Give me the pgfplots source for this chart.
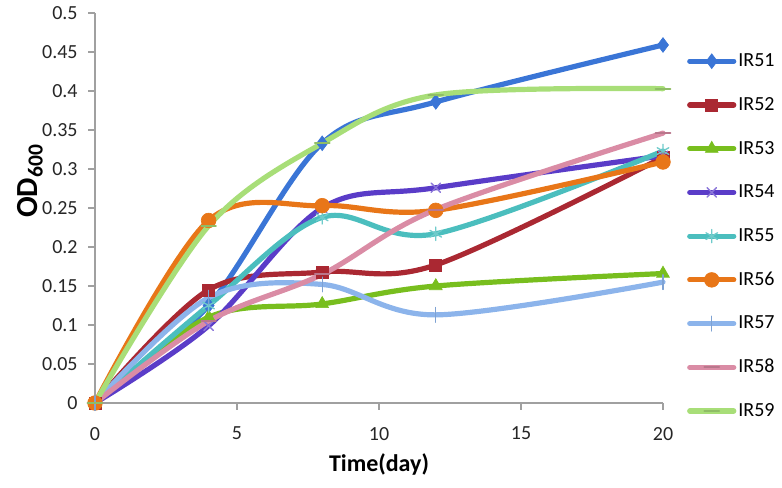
\documentclass[border=0pt]{standalone}
\usepackage{pgfplots}
\pgfplotsset{compat=1.18}
\usepackage{fontspec}
\setmainfont{Carlito}
\definecolor{c51}{RGB}{58,117,214}
\definecolor{c52}{RGB}{170,40,50}
\definecolor{c53}{RGB}{120,190,30}
\definecolor{c54}{RGB}{90,60,200}
\definecolor{c55}{RGB}{75,190,190}
\definecolor{c56}{RGB}{232,118,24}
\definecolor{c57}{RGB}{140,180,235}
\definecolor{c58}{RGB}{218,140,165}
\definecolor{c59}{RGB}{168,222,120}
\definecolor{axgray}{RGB}{160,160,160}
\begin{document}
\begin{tikzpicture}
\path[use as bounding box] (-71.25pt,-63pt) rectangle (515.25pt,302.25pt);
\begin{axis}[
  at={(0,0)}, anchor=south west,
  scale only axis, width=426pt, height=292.5pt,
  xmin=0, xmax=20, ymin=0, ymax=0.5,
  axis x line*=bottom, axis y line*=left,
  axis line style={axgray, line width=0.8pt},
  every tick/.style={axgray, line width=0.8pt},
  tick align=outside, major tick length=5pt,
  xtick={0,5,10,15,20},
  ytick={0,0.05,0.1,0.15,0.2,0.25,0.3,0.35,0.4,0.45,0.5},
  yticklabels={0,0.05,0.1,0.15,0.2,0.25,0.3,0.35,0.4,0.45,0.5},
  /pgf/number format/assume math mode=true,
  tick label style={font=\fontsize{15}{18}\selectfont, text=black!85},
  xticklabel style={yshift=-9.5pt},
  yticklabel style={xshift=-4.5pt},
  clip=false,
  xlabel={\textbf{Time(day)}},
  xlabel style={font=\fontsize{18}{21}\selectfont, at={(axis description cs:0.5,-0.157)}, anchor=center},
  ylabel={\textbf{OD\textsubscript{600}}},
  ylabel style={font=\fontsize{23}{26}\selectfont, at={(axis description cs:-0.114,0.569)}, anchor=center, rotate=0},
  every axis plot/.append style={line width=3.9pt, smooth, tension=0.55, line cap=round},
  legend image code/.code={\draw[mark repeat=2,mark phase=2,#1] plot coordinates {(0pt,0pt) (16.5pt,0pt) (33pt,0pt)};},
  legend style={draw=none, fill=none, at={(1.035,0.913)}, anchor=north west,
    font=\fontsize{15}{18}\selectfont, row sep=15.8pt,
    nodes={inner sep=1.5pt, text height=11pt, text depth=3pt}},
  legend cell align=left,
]
\addplot[c51, mark=diamond*, mark size=5.5pt, mark options={solid, line width=0.5pt, fill=c51}] coordinates {(0,0) (4,0.125) (8,0.333) (12,0.386) (20,0.459)};
\addlegendentry{IR51}
\addplot[c52, mark=square*, mark size=4.5pt, mark options={solid, line width=0.5pt, fill=c52}] coordinates {(0,0) (4,0.145) (8,0.168) (12,0.177) (20,0.315)};
\addlegendentry{IR52}
\addplot[c53, mark=triangle*, mark size=5.5pt, mark options={solid, line width=0.5pt, fill=c53}] coordinates {(0,0) (4,0.11) (8,0.127) (12,0.15) (20,0.166)};
\addlegendentry{IR53}
\addplot[c54, mark=x, mark size=5pt, mark options={solid, line width=1pt, draw=c54!70}] coordinates {(0,0) (4,0.099) (8,0.25) (12,0.276) (20,0.317)};
\addlegendentry{IR54}
\addplot[c55, mark=asterisk, mark size=5pt, mark options={solid, line width=1pt, draw=c55!80}] coordinates {(0,0) (4,0.125) (8,0.238) (12,0.217) (20,0.323)};
\addlegendentry{IR55}
\addplot[c56, mark=*, mark size=5.5pt, mark options={solid, line width=0.5pt, fill=c56}] coordinates {(0,0) (4,0.234) (8,0.253) (12,0.247) (20,0.309)};
\addlegendentry{IR56}
\addplot[c57, mark=|, mark size=5.5pt, mark options={solid, line width=1pt, draw=c57!90!black}] coordinates {(0,0) (4,0.135) (8,0.152) (12,0.113) (20,0.155)};
\addlegendentry{IR57}
\addplot[c58, mark=-, mark size=5.5pt, mark options={solid, line width=1.5pt, draw=c58!85!black}] coordinates {(0,0) (4,0.105) (8,0.165) (12,0.248) (20,0.346)};
\addlegendentry{IR58}
\addplot[c59, mark=-, mark size=5.5pt, mark options={solid, line width=1.5pt, draw=c59!85!black}] coordinates {(0,0) (4,0.227) (8,0.333) (12,0.395) (20,0.403)};
\addlegendentry{IR59}
\end{axis}
\end{tikzpicture}
\end{document}
